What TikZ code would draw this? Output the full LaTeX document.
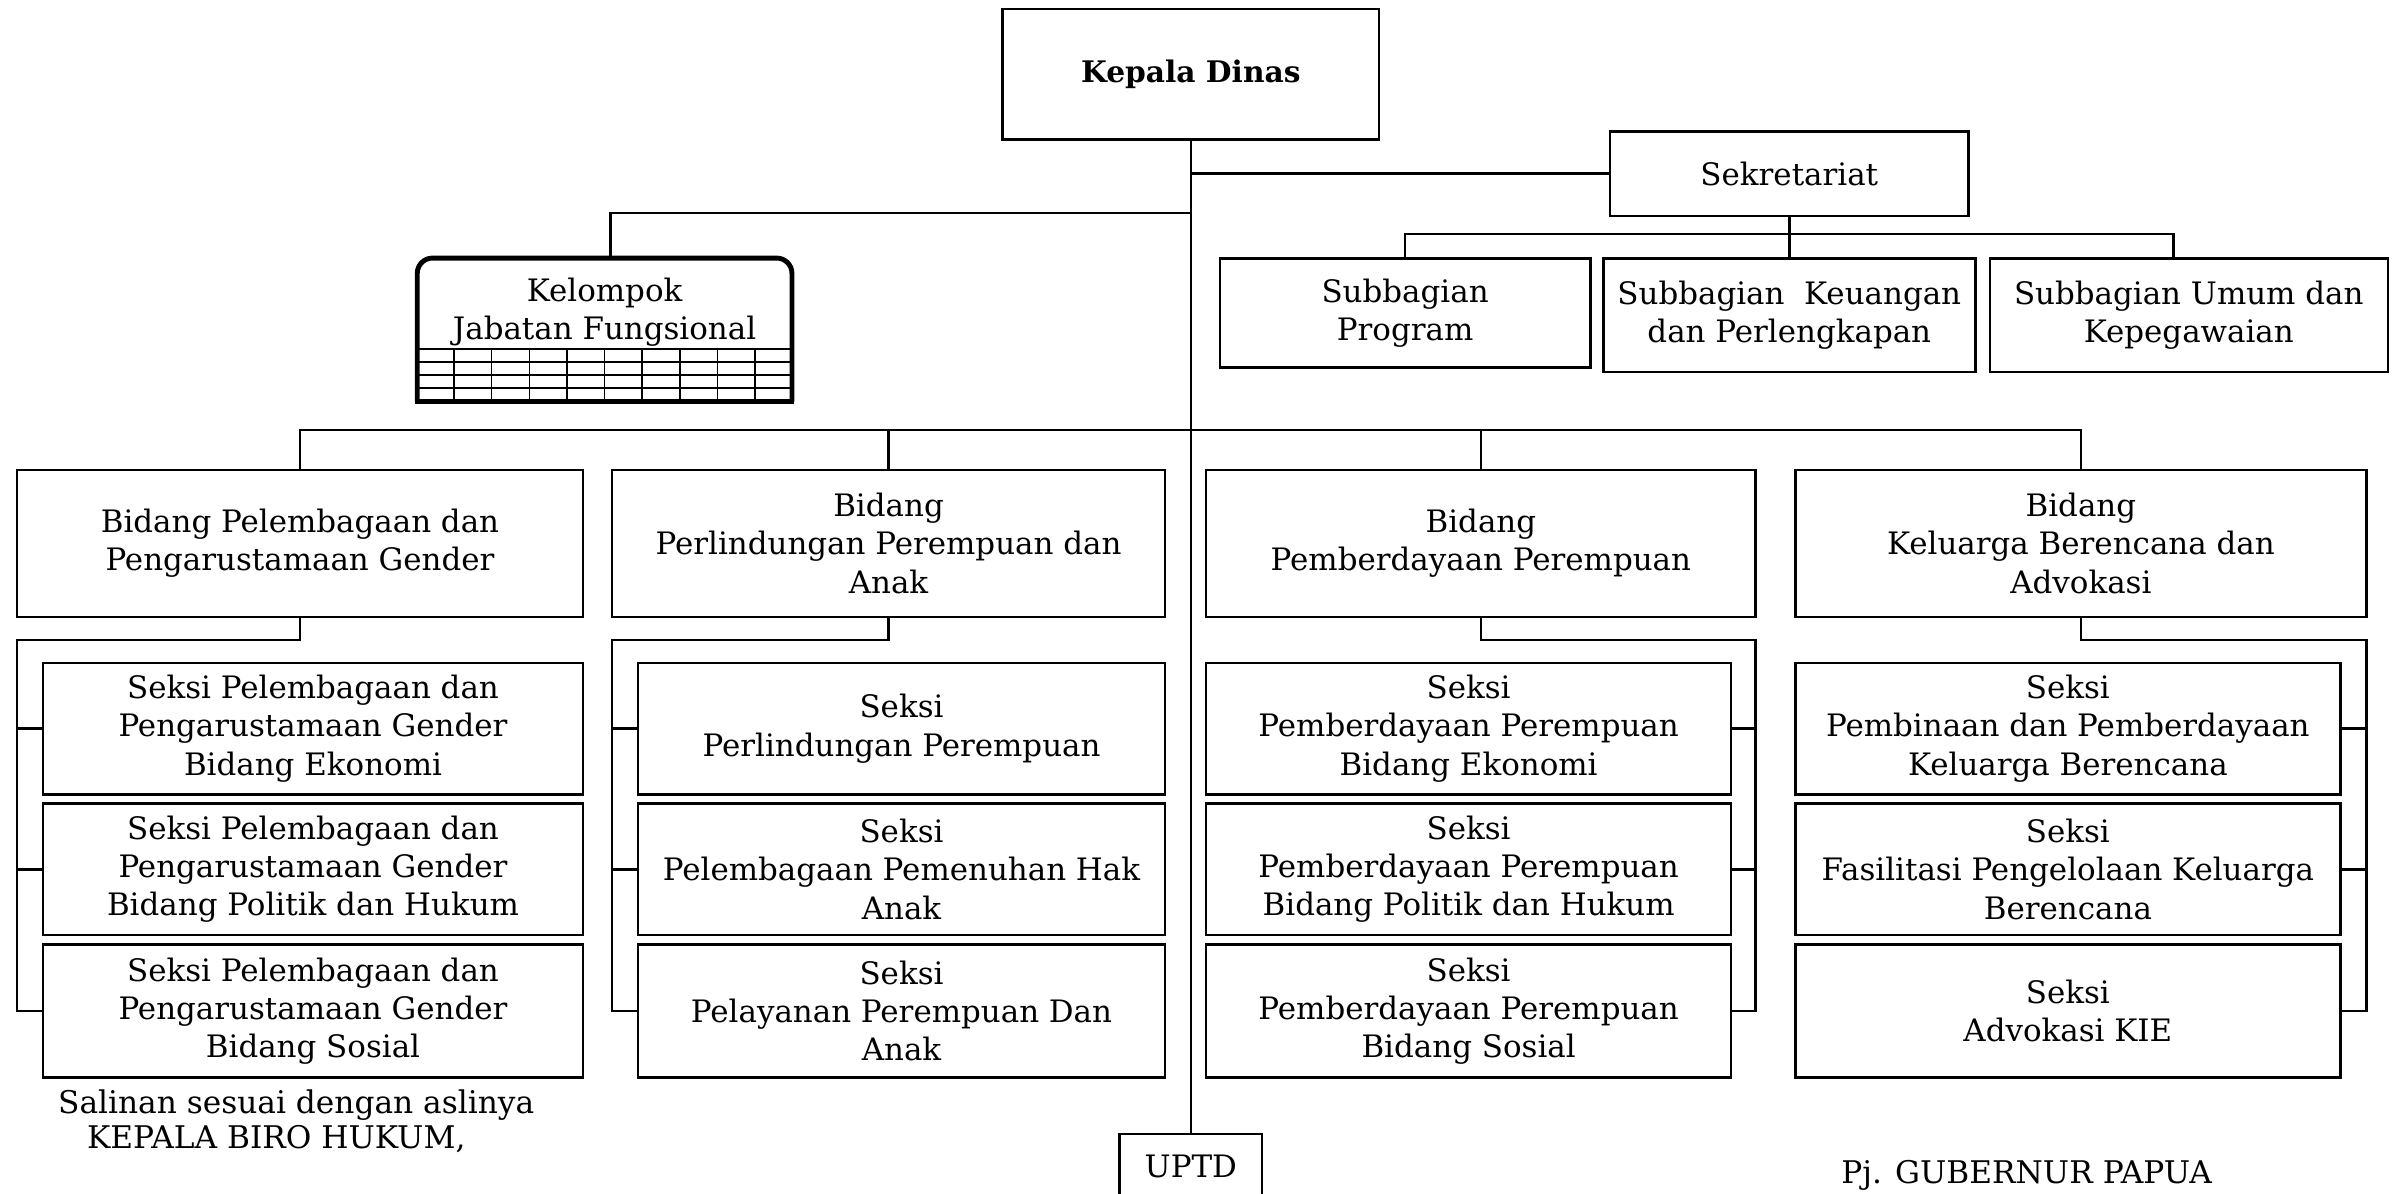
\documentclass[tikz,border=0pt]{standalone}
\usepackage{fontspec}
\setmainfont{DejaVu Serif}
\begin{document}
\begin{tikzpicture}[x=0.5pt,y=-0.5pt]
\tikzset{
  tfont/.style={font=\fontsize{10.1}{12.5}\selectfont},
  box/.style={draw, line width=0.8pt, align=center, inner sep=0pt, tfont},
  txt/.style={align=center, inner sep=0pt, tfont},
  foot/.style={align=center, inner sep=0pt, font=\fontsize{10.2}{12.5}\selectfont},
  conn/.style={line width=0.8pt},
  gridline/.style={line width=0.5pt},
  kelborder/.style={line width=1.6pt},
}
\useasboundingbox (0,0) rectangle (1568,780);
\clip (0,0) rectangle (1568,780);
\fill[white] (0,0) rectangle (1568,780);

% top level
\node[box, minimum width=123pt, minimum height=42.5pt, font=\bfseries\fontsize{9.7}{12.5}\selectfont] (kd) at (778,48.5) {Kepala Dinas};
\node[box, minimum width=117pt, minimum height=27.5pt] (sek) at (1169,113.5) {Sekretariat};
\node[box, minimum width=121pt, minimum height=35.5pt] (sp) at (918,204.5) {Subbagian\\Program};
\node[box, minimum width=121.5pt, minimum height=37pt] (sk) at (1169,206) {Subbagian\ \ Keuangan\\dan Perlengkapan};
\node[box, minimum width=130pt, minimum height=37pt] (su) at (1430,206) {Subbagian Umum dan\\Kepegawaian};

% Kelompok Jabatan Fungsional
\node[minimum width=122pt, minimum height=46.5pt, inner sep=0pt] (kel) at (395,215.5) {};
\node[txt] (kelt) at (395,204) {Kelompok\\Jabatan Fungsional};
\foreach \yy in {228,236.5,245,253.5} \draw[gridline] (273,\yy) -- (517,\yy);
\foreach \i in {1,...,9} \draw[gridline] (272+24.6*\i,228) -- (272+24.6*\i,262);
\draw[kelborder, rounded corners=5pt] (kel.south west) -- (kel.north west) -- (kel.north east) -- (kel.south east);
\draw[kelborder, line cap=rect] (kel.south west) -- (kel.south east);

% Bidang
\node[box, minimum width=185pt, minimum height=48pt] (b1) at (196,355) {Bidang Pelembagaan dan\\Pengarustamaan Gender};
\node[box, minimum width=180.5pt, minimum height=48pt] (b2) at (580.5,355) {Bidang\\Perlindungan Perempuan dan\\Anak};
\node[box, minimum width=179.5pt, minimum height=48pt] (b3) at (967.5,355) {Bidang\\Pemberdayaan Perempuan};
\node[box, minimum width=186.5pt, minimum height=48pt] (b4) at (1359.5,355) {Bidang\\Keluarga Berencana dan\\Advokasi};

% Seksi column 1
\node[box, minimum width=176.5pt, minimum height=43pt] (s11) at (204.5,476) {Seksi Pelembagaan dan\\Pengarustamaan Gender\\Bidang Ekonomi};
\node[box, minimum width=176.5pt, minimum height=43pt] (s12) at (204.5,568) {Seksi Pelembagaan dan\\Pengarustamaan Gender\\Bidang Politik dan Hukum};
\node[box, minimum width=176.5pt, minimum height=43.5pt] (s13) at (204.5,660.5) {Seksi Pelembagaan dan\\Pengarustamaan Gender\\Bidang Sosial};
% Seksi column 2
\node[box, minimum width=172pt, minimum height=43pt] (s21) at (589,476) {Seksi\\Perlindungan Perempuan};
\node[box, minimum width=172pt, minimum height=43pt] (s22) at (589,568) {Seksi\\Pelembagaan Pemenuhan Hak\\Anak};
\node[box, minimum width=172pt, minimum height=43.5pt] (s23) at (589,660.5) {Seksi\\Pelayanan Perempuan Dan\\Anak};
% Seksi column 3
\node[box, minimum width=171.5pt, minimum height=43pt] (s31) at (959.5,476) {Seksi\\Pemberdayaan Perempuan\\Bidang Ekonomi};
\node[box, minimum width=171.5pt, minimum height=43pt] (s32) at (959.5,568) {Seksi\\Pemberdayaan Perempuan\\Bidang Politik dan Hukum};
\node[box, minimum width=171.5pt, minimum height=43.5pt] (s33) at (959.5,660.5) {Seksi\\Pemberdayaan Perempuan\\Bidang Sosial};
% Seksi column 4
\node[box, minimum width=178pt, minimum height=43pt] (s41) at (1351,476) {Seksi\\Pembinaan dan Pemberdayaan\\Keluarga Berencana};
\node[box, minimum width=178pt, minimum height=43pt] (s42) at (1351,568) {Seksi\\Fasilitasi Pengelolaan Keluarga\\Berencana};
\node[box, minimum width=178pt, minimum height=43.5pt] (s43) at (1351,660.5) {Seksi\\Advokasi KIE};

% UPTD
\node[draw, line width=0.8pt, anchor=north, minimum width=46.5pt, minimum height=30pt, inner sep=0pt] (uptd) at (778,740) {};
\node[txt] (uptdt) at (778,762) {UPTD};

% footer texts
\node[foot] (sal) at (193.5,722) {Salinan sesuai dengan aslinya};
\node[foot] (kbh) at (180.5,744) {KEPALA BIRO HUKUM,};
\node[foot] (gub) at (1324,768) {Pj. GUBERNUR PAPUA};

% connectors
\draw[conn] (kd.south) -- (uptd.north);
\draw[conn] (kd.south |- sek.west) -- (sek.west);
\coordinate (kj) at (778,139);
\coordinate (kin) at (399,169);
\draw[conn] (kj) -| (kin);
\coordinate (sbus) at (1169,153);
\coordinate (spin) at (918,169);
\coordinate (suin) at (1420,169);
\draw[conn] (sek.south) -- (sbus);
\draw[conn] (spin) |- (sbus) -| (suin);
\draw[conn] (sk.north) -- (sbus);
\coordinate (bbus) at (778,281);
\draw[conn] (b1.north) |- (bbus) -| (b4.north);
\draw[conn] (b2.north) -- (b2.north |- bbus);
\draw[conn] (b3.north) -- (b3.north |- bbus);

\coordinate (t1) at (11,418);
\draw[conn] (b1.south) |- (t1) -- (t1 |- s13.west) -- (s13.west);
\draw[conn] (t1 |- s11.west) -- (s11.west);
\draw[conn] (t1 |- s12.west) -- (s12.west);

\coordinate (t2) at (400,418);
\draw[conn] (b2.south) |- (t2) -- (t2 |- s23.west) -- (s23.west);
\draw[conn] (t2 |- s21.west) -- (s21.west);
\draw[conn] (t2 |- s22.west) -- (s22.west);

\coordinate (t3) at (1147,418);
\draw[conn] (b3.south) |- (t3) -- (t3 |- s33.east) -- (s33.east);
\draw[conn] (t3 |- s31.east) -- (s31.east);
\draw[conn] (t3 |- s32.east) -- (s32.east);

\coordinate (t4) at (1546,418);
\draw[conn] (b4.south) |- (t4) -- (t4 |- s43.east) -- (s43.east);
\draw[conn] (t4 |- s41.east) -- (s41.east);
\draw[conn] (t4 |- s42.east) -- (s42.east);
\end{tikzpicture}
\end{document}
